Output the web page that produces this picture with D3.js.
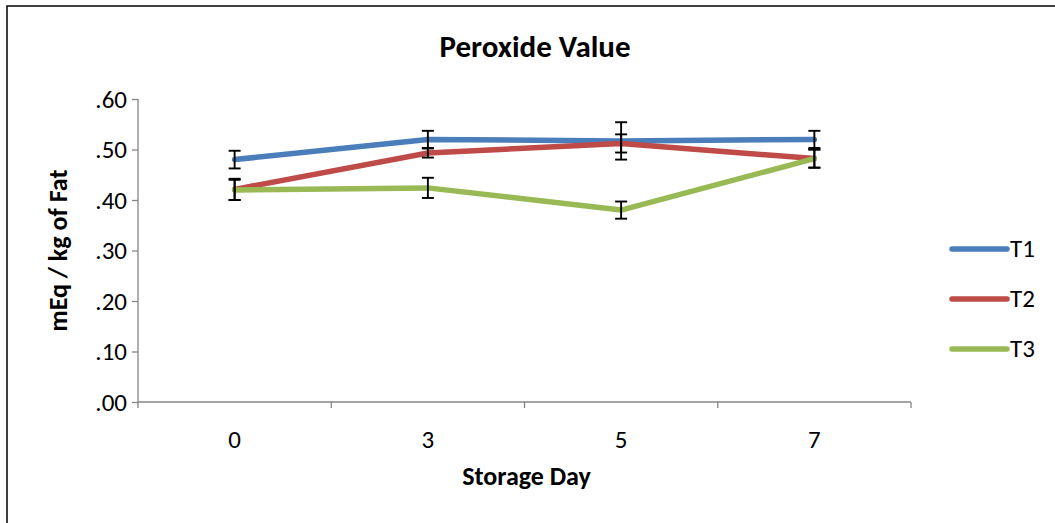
<!DOCTYPE html>
<html>
  <head>
    <meta charset="utf-8" />
    <script src="https://d3js.org/d3.v7.min.js"></script>
    <style>
      body { margin: 0; background: #fff; }
      text { font-family: Carlito, "Liberation Sans Narrow", "Open Sans", sans-serif; fill: #000; }
      .axis path, .axis line { stroke: #868686; stroke-width: 1.3px; }
    </style>
  </head>
  <body>
    <svg id="chart" width="1055" height="523"></svg>
  <script>

  var days = ["0", "3", "5", "7"];
  var seriesNames = ["T1", "T2", "T3"];
  var colors = ["#4a7ebb", "#be4b48", "#98b954"];

  var t1 = [0.480, 0.520, 0.517, 0.520];
  var t2 = [0.421, 0.493, 0.512, 0.482];
  var t3 = [0.420, 0.424, 0.380, 0.482];

  var t1Err = [0.0175, 0.017, 0.037, 0.017];
  var t2Err = [0.021, 0.009, 0.018, 0.018];
  var t3Err = [0.020, 0.020, 0.017, 0.018];

  var yTicks = [0, 0.1, 0.2, 0.3, 0.4, 0.5, 0.6];

  var values = [t1, t2, t3];
  var errors = [t1Err, t2Err, t3Err];

  var svg = d3.select("#chart");

  // outer chart border (right and bottom run off the picture)
  svg.append("rect")
    .attr("x", 7).attr("y", 6)
    .attr("width", 1060).attr("height", 530)
    .attr("fill", "none").attr("stroke", "#000").attr("stroke-width", 1.5);

  var plotLeft = 138, plotRight = 911, plotTop = 99, plotBottom = 402;

  var x = d3.scaleBand().domain(days).range([plotLeft, plotRight]);
  var y = d3.scaleLinear().domain([0, 0.6]).range([plotBottom, plotTop]);

  // y axis
  var yAxis = svg.append("g")
    .attr("class", "axis")
    .attr("transform", "translate(" + plotLeft + ",0)")
    .call(d3.axisLeft(y).tickValues(yTicks).tickSize(6).tickPadding(5)
      .tickFormat(function(d) { return d3.format(".2f")(d).replace(/^0/, ""); }));
  yAxis.select(".domain").attr("d", "M0," + plotTop + "V" + plotBottom);
  yAxis.selectAll("text").attr("font-size", 25);

  // x axis: ticks between categories
  var xAxis = svg.append("g")
    .attr("class", "axis")
    .attr("transform", "translate(0," + plotBottom + ")");
  xAxis.append("line")
    .attr("x1", plotLeft).attr("x2", plotRight);
  xAxis.selectAll(".tick")
    .data(d3.range(days.length + 1))
    .enter().append("line")
    .attr("x1", function(i) { return plotLeft + i * x.step(); })
    .attr("x2", function(i) { return plotLeft + i * x.step(); })
    .attr("y1", 0).attr("y2", 6);
  xAxis.selectAll(".lbl")
    .data(days)
    .enter().append("text")
    .attr("x", function(d) { return x(d) + x.bandwidth() / 2; })
    .attr("y", 46)
    .attr("text-anchor", "middle")
    .attr("font-size", 25)
    .text(function(d) { return d; });

  var line = d3.line()
    .x(function(d, i) { return x(days[i]) + x.bandwidth() / 2; })
    .y(function(d) { return y(d); });

  // lines
  values.forEach(function(vals, s) {
    svg.append("path")
      .datum(vals)
      .attr("d", line)
      .attr("fill", "none")
      .attr("stroke", colors[s])
      .attr("stroke-width", 5.5)
      .attr("stroke-linejoin", "round")
      .attr("stroke-linecap", "round");
  });

  // error bars
  values.forEach(function(vals, s) {
    var g = svg.append("g").attr("stroke", "#000").attr("stroke-width", 1.9);
    vals.forEach(function(v, i) {
      var cx = x(days[i]) + x.bandwidth() / 2;
      var e = errors[s][i];
      g.append("line").attr("x1", cx).attr("x2", cx).attr("y1", y(v + e)).attr("y2", y(v - e));
      g.append("line").attr("x1", cx - 6).attr("x2", cx + 6).attr("y1", y(v + e)).attr("y2", y(v + e));
      g.append("line").attr("x1", cx - 6).attr("x2", cx + 6).attr("y1", y(v - e)).attr("y2", y(v - e));
    });
  });

  // title
  svg.append("text")
    .attr("x", 535).attr("y", 57)
    .attr("text-anchor", "middle")
    .attr("font-size", 31).attr("font-weight", "bold")
    .text("Peroxide Value");

  // axis titles
  svg.append("text")
    .attr("transform", "translate(67," + ((plotTop + plotBottom) / 2) + ") rotate(-90)")
    .attr("text-anchor", "middle")
    .attr("font-size", 26).attr("font-weight", "bold")
    .text("mEq / kg of Fat");

  svg.append("text")
    .attr("x", (plotLeft + plotRight) / 2 + 2).attr("y", 485)
    .attr("text-anchor", "middle")
    .attr("font-size", 26).attr("font-weight", "bold")
    .text("Storage Day");

  // legend
  var legend = svg.selectAll(".legend")
    .data(seriesNames)
    .enter().append("g")
    .attr("transform", function(d, i) { return "translate(952," + (249 + i * 50) + ")"; });
  legend.append("line")
    .attr("x1", 0).attr("x2", 55)
    .attr("stroke", function(d, i) { return colors[i]; })
    .attr("stroke-width", 5.5)
    .attr("stroke-linecap", "round");
  legend.append("text")
    .attr("x", 58).attr("y", 8)
    .attr("font-size", 25)
    .text(function(d) { return d; });

  </script>
  </body>
</html>
